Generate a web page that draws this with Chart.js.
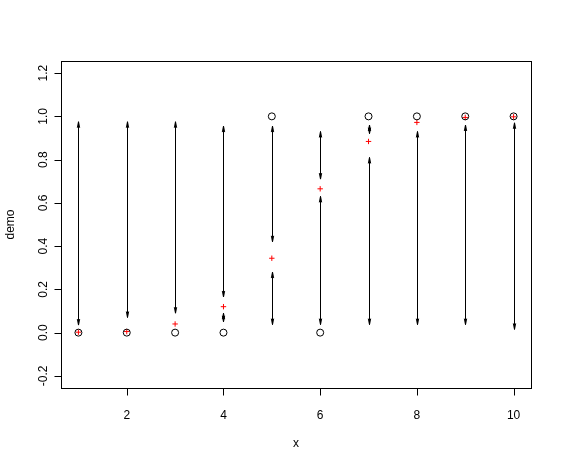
<!DOCTYPE html>
<html>
<head>
<meta charset="utf-8">
<script src="https://cdn.jsdelivr.net/npm/chart.js@4/dist/chart.umd.min.js"></script>
<style>
  html, body { margin: 0; padding: 0; background: #ffffff; }
  #wrap { width: 563px; height: 466px; }
</style>
</head>
<body>
<div id="wrap"><canvas id="chart" width="563" height="466"></canvas></div>
<script>
// datos
const X_VALUES   = [1, 2, 3, 4, 5, 6, 7, 8, 9, 10];
const OBSERVED   = [0, 0, 0, 0, 1, 0, 1, 1, 1, 1];
const PREDICTED  = [0.002, 0.005, 0.04, 0.12, 0.344, 0.665, 0.884, 0.972, 0.995, 0.998];
// flechas de arriba (por encima del punto predicho) y de abajo
const UPPER_LO   = [0.035, 0.07, 0.09, 0.165, 0.42, 0.71, 0.92, null, null, null];
const UPPER_HI   = [0.975, 0.975, 0.975, 0.955, 0.955, 0.93, 0.96, null, null, null];
const LOWER_LO   = [null, null, null, 0.05, 0.037, 0.037, 0.037, 0.037, 0.037, 0.015];
const LOWER_HI   = [null, null, null, 0.09, 0.28, 0.63, 0.81, 0.93, 0.96, 0.97];
const X_TICKS    = [2, 4, 6, 8, 10];
const Y_TICKS    = [-0.2, 0, 0.2, 0.4, 0.6, 0.8, 1.0, 1.2];

const FONT = '12px "Liberation Sans", Arial, sans-serif';

// dibuja la caja, las marcas de ejes, las etiquetas y las flechas
const rPlot = {
  id: 'rPlot',
  afterDatasetsDraw(chart) {
    const ctx = chart.ctx;
    const a = chart.chartArea;
    const xs = chart.scales.x, ys = chart.scales.y;
    ctx.save();
    ctx.strokeStyle = '#000';
    ctx.lineWidth = 1;

    // flechas con punta en ambos extremos
    const arrow = (xv, lo, hi) => {
      if (lo == null || hi == null) return;
      const px = Math.round(xs.getPixelForValue(xv)) + 0.5;
      const p1 = ys.getPixelForValue(lo), p2 = ys.getPixelForValue(hi);
      ctx.beginPath();
      ctx.moveTo(px, p1); ctx.lineTo(px, p2);
      // punta superior
      ctx.moveTo(px - 1.2, p2 + 6); ctx.lineTo(px, p2); ctx.lineTo(px + 1.2, p2 + 6);
      // punta inferior
      ctx.moveTo(px - 1.2, p1 - 6); ctx.lineTo(px, p1); ctx.lineTo(px + 1.2, p1 - 6);
      ctx.stroke();
    };
    X_VALUES.forEach((xv, i) => {
      arrow(xv, UPPER_LO[i], UPPER_HI[i]);
      arrow(xv, LOWER_LO[i], LOWER_HI[i]);
    });

    // caja
    ctx.strokeRect(Math.round(a.left) + 0.5, Math.round(a.top) + 0.5,
                   Math.round(a.right - a.left), Math.round(a.bottom - a.top));

    ctx.fillStyle = '#000';
    ctx.font = FONT;

    // eje x
    const by = Math.round(a.bottom) + 0.5;
    ctx.beginPath();
    X_TICKS.forEach(t => {
      const px = Math.round(xs.getPixelForValue(t)) + 0.5;
      ctx.moveTo(px, by); ctx.lineTo(px, by + 7);
    });
    ctx.stroke();
    ctx.textAlign = 'center';
    ctx.textBaseline = 'middle';
    X_TICKS.forEach(t => ctx.fillText(String(t), xs.getPixelForValue(t), by + 27));
    ctx.fillText('x', (a.left + a.right) / 2, by + 55);

    // eje y
    const lx = Math.round(a.left) + 0.5;
    ctx.beginPath();
    Y_TICKS.forEach(t => {
      const py = Math.round(ys.getPixelForValue(t)) + 0.5;
      ctx.moveTo(lx, py); ctx.lineTo(lx - 7, py);
    });
    ctx.stroke();
    Y_TICKS.forEach(t => {
      ctx.save();
      ctx.translate(lx - 18, ys.getPixelForValue(t));
      ctx.rotate(-Math.PI / 2);
      ctx.fillText(t.toFixed(1), 0, 0);
      ctx.restore();
    });
    ctx.save();
    ctx.translate(lx - 51, (a.top + a.bottom) / 2);
    ctx.rotate(-Math.PI / 2);
    ctx.fillText('demo', 0, 0);
    ctx.restore();

    ctx.restore();
  }
};

new Chart(document.getElementById('chart'), {
  type: 'scatter',
  data: {
    datasets: [
      {
        label: 'demo',
        data: X_VALUES.map((x, i) => ({ x, y: OBSERVED[i] })),
        pointStyle: 'circle',
        pointRadius: 3.5,
        borderColor: '#000',
        backgroundColor: 'rgba(0,0,0,0)',
        borderWidth: 1
      },
      {
        label: 'predicho',
        data: X_VALUES.map((x, i) => ({ x, y: PREDICTED[i] })),
        pointStyle: 'cross',
        pointRadius: 2.7,
        borderColor: '#ff0000',
        backgroundColor: '#ff0000',
        borderWidth: 1
      }
    ]
  },
  options: {
    responsive: false,
    animation: false,
    layout: { padding: { top: 61, right: 32, left: 0, bottom: 0 } },
    plugins: { legend: { display: false }, tooltip: { enabled: false } },
    scales: {
      x: {
        type: 'linear', min: 0.64, max: 10.36,
        grid: { display: false }, border: { display: false },
        ticks: { display: false },
        afterFit: s => { s.height = 78; }
      },
      y: {
        type: 'linear', min: -0.256, max: 1.256,
        grid: { display: false }, border: { display: false },
        ticks: { display: false },
        afterFit: s => { s.height; s.width = 61; }
      }
    }
  },
  plugins: [rPlot]
});
</script>
</body>
</html>
